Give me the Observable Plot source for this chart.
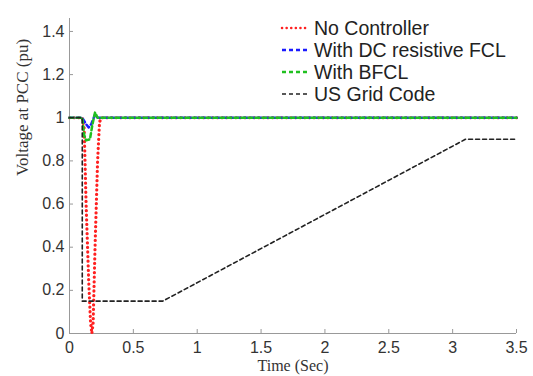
<!DOCTYPE html>
<html>
<head>
<meta charset="utf-8">
<script src="https://cdn.jsdelivr.net/npm/d3@7"></script>
<script src="https://cdn.jsdelivr.net/npm/@observablehq/plot@0.6"></script>
<style>
  html, body { margin: 0; padding: 0; background: #fff; }
  #wrap { position: relative; width: 533px; height: 376px; }
  #legend { position: absolute; left: 280px; top: 17px; font-family: Arial, "Liberation Sans", sans-serif; font-size: 19.5px; color: #222; }
  .row { display: flex; align-items: center; height: 22px; }
  .row svg { margin-right: 4px; }
</style>
</head>
<body>
<div id="wrap"><div id="legend"></div></div>
<script>
const seriesNames = ["No Controller", "With DC resistive FCL", "With BFCL", "US Grid Code"];
const seriesColors = ["#ff2020", "#1a1aff", "#20c020", "#222222"];

const noControllerT = [0, 0.1, 0.115, 0.13, 0.15, 0.165, 0.175, 0.185, 0.2, 0.22, 0.235, 0.25, 3.5];
const noControllerV = [1, 1, 0.95, 0.6, 0.25, 0.05, 0, 0.05, 0.4, 0.8, 0.98, 1, 1];

const dcFclT = [0, 0.1, 0.13, 0.15, 0.17, 0.2, 0.22, 3.5];
const dcFclV = [1, 1, 0.97, 0.955, 0.97, 1.015, 1.0, 1];

const bfclT = [0, 0.1, 0.115, 0.13, 0.16, 0.18, 0.2, 0.22, 3.5];
const bfclV = [1, 1, 0.92, 0.895, 0.9, 0.97, 1.025, 1.0, 1];

const gridT = [0, 0.1, 0.1, 0.73, 3.1, 3.5];
const gridV = [1, 1, 0.15, 0.15, 0.9, 0.9];

const xTicks = [0, 0.5, 1, 1.5, 2, 2.5, 3, 3.5];
const yTicks = [0, 0.2, 0.4, 0.6, 0.8, 1, 1.2, 1.4];

const toRows = (ts, vs) => ts.map((t, i) => ({t, v: vs[i]}));
const styles = [
  {strokeWidth: 3.2, strokeDasharray: "0.1 4.5", strokeLinecap: "round"},
  {strokeWidth: 2.5, strokeDasharray: "4 3"},
  {strokeWidth: 2.5, strokeDasharray: "4 3"},
  {strokeWidth: 1.6, strokeDasharray: "4 3"}
];
const datasets = [
  toRows(noControllerT, noControllerV),
  toRows(dcFclT, dcFclV),
  toRows(bfclT, bfclV),
  toRows(gridT, gridV)
];

const chart = Plot.plot({
  width: 533,
  height: 376,
  marginLeft: 69,
  marginRight: 17,
  marginTop: 18,
  marginBottom: 43,
  style: {fontFamily: "Arial, 'Liberation Sans', sans-serif", fontSize: "16px", color: "#333", background: "#fff"},
  x: {domain: [0, 3.5]},
  y: {domain: [0, 1.46]},
  marks: [
    Plot.ruleX([0], {stroke: "#999"}),
    Plot.ruleY([0], {stroke: "#999"}),
    Plot.axisX({ticks: xTicks, tickFormat: d => String(d), tickSize: -4, tickPadding: 12, stroke: "#999", label: null}),
    Plot.axisY({ticks: yTicks, tickFormat: d => String(d), tickSize: -4, tickPadding: 9, stroke: "#999", label: null}),
    Plot.text(["Time (Sec)"], {frameAnchor: "bottom", dy: 37, fontFamily: "'Liberation Serif', 'Times New Roman', serif", fontSize: 16, fill: "#333"}),
    Plot.text(["Voltage at PCC (pu)"], {frameAnchor: "left", dx: -47, rotate: -90, fontFamily: "'Liberation Serif', 'Times New Roman', serif", fontSize: 17, fill: "#333"}),
    ...datasets.map((d, i) => Plot.line(d, {x: "t", y: "v", stroke: seriesColors[i], ...styles[i]}))
  ]
});
document.getElementById("wrap").prepend(chart);
chart.style.position = "absolute";
chart.style.left = "0";
chart.style.top = "0";

const legend = document.getElementById("legend");
seriesNames.forEach((name, i) => {
  const row = document.createElement("div");
  row.className = "row";
  const s = styles[i];
  row.innerHTML = `<svg width="30" height="10"><line x1="2" y1="5" x2="29" y2="5" stroke="${seriesColors[i]}" stroke-width="${Math.min(s.strokeWidth, 2.5)}" stroke-dasharray="${s.strokeDasharray}" stroke-linecap="${s.strokeLinecap || 'butt'}"/></svg><span>${name}</span>`;
  legend.appendChild(row);
});
</script>
</body>
</html>
